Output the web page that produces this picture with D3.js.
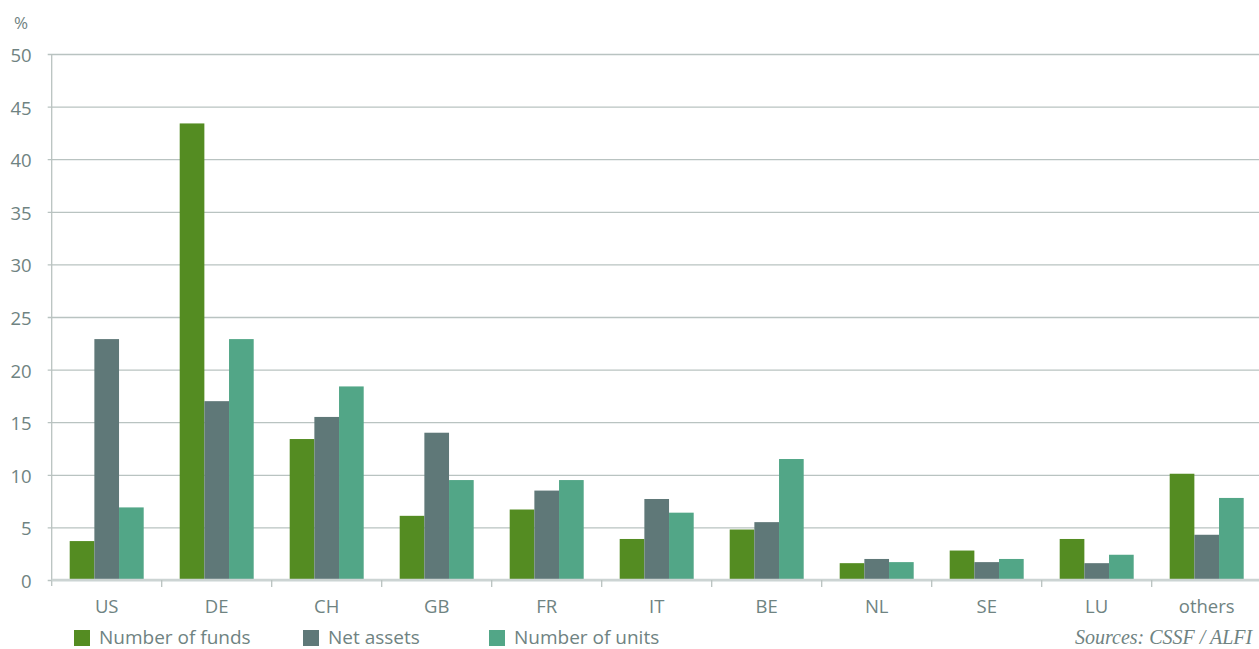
<!DOCTYPE html>
<html><head><meta charset="utf-8">
<script src="https://cdn.jsdelivr.net/npm/d3@7"></script>
<style>
html,body{margin:0;padding:0;background:#fff;}
svg{display:block;}
text{font-family:"Open Sans",Lato,sans-serif;font-weight:400;fill:#6f8382;}
</style></head>
<body>
<svg id="chart" width="1259" height="649"></svg>
<script>
const categories = ["US","DE","CH","GB","FR","IT","BE","NL","SE","LU","others"];
const seriesNames = ["Number of funds","Net assets","Number of units"];
const numberOfFunds = [3.7,43.4,13.4,6.1,6.7,3.9,4.8,1.6,2.8,3.9,10.1];
const netAssets     = [22.9,17.0,15.5,14.0,8.5,7.7,5.5,2.0,1.7,1.6,4.3];
const numberOfUnits = [6.9,22.9,18.4,9.5,9.5,6.4,11.5,1.7,2.0,2.4,7.8];
const yTicks = [0,5,10,15,20,25,30,35,40,45,50];
const colors = ["#548c22","#5f7878","#52a687"];
const seriesValues = [numberOfFunds, netAssets, numberOfUnits];

const svg = d3.select("#chart");
const mLeft = 51.7, mRight = 1261.7, mTop = 54, mBottom = 580;

const x0 = d3.scaleBand().domain(categories).range([mLeft, mRight]).paddingInner(36/110).paddingOuter(18/110);
const x1 = d3.scaleBand().domain(seriesNames).range([0, x0.bandwidth()]);
const y = d3.scaleLinear().domain([0,50]).range([mBottom, mTop]);

// gridlines
const yAxis = d3.axisLeft(y).tickValues(yTicks).tickSize(-(1259 - mLeft)).tickSizeOuter(0).tickPadding(20);
const gy = svg.append("g").attr("transform", `translate(${mLeft},0)`).call(yAxis);
gy.select(".domain").remove();
gy.selectAll(".tick line").attr("stroke","#b9c3c1").attr("stroke-width",1.3).attr("x1",-4);
gy.selectAll(".tick text").style("font-size","18.5px").attr("fill","#6f8382").attr("dy","0.4em");

// left axis line
svg.append("line").attr("x1",mLeft).attr("x2",mLeft).attr("y1",y(50)).attr("y2",mBottom+6)
  .attr("stroke","#b9c3c1").attr("stroke-width",1.3);

// bars
const data = categories.map((c,i)=>({cat:c, vals: seriesNames.map((s,j)=>({s, v: seriesValues[j][i], j}))}));
const groups = svg.append("g").selectAll("g").data(data).join("g")
  .attr("transform", d=>`translate(${x0(d.cat)},0)`);
groups.selectAll("rect").data(d=>d.vals).join("rect")
  .attr("x", d=>x1(d.s)).attr("width", x1.bandwidth())
  .attr("y", d=>y(d.v)).attr("height", d=>y(0)-y(d.v))
  .attr("fill", d=>colors[d.j]);

// x axis
const xAxis = d3.axisBottom(x0).tickSize(0).tickPadding(20);
const gx = svg.append("g").attr("transform", `translate(0,${mBottom})`).call(xAxis);
gx.select(".domain").remove();
gx.selectAll(".tick text").style("font-size","18.5px").attr("fill","#6f8382");
svg.append("line").attr("x1",mLeft).attr("x2",1259).attr("y1",mBottom).attr("y2",mBottom)
  .attr("stroke","#ccd4d3").attr("stroke-width",2.5);
// category separator ticks
const sepPos = categories.map((c)=>x0(c) - x0.step()*x0.paddingOuter());
svg.append("g").selectAll("line").data(sepPos.slice(1)).join("line")
  .attr("x1",d=>d).attr("x2",d=>d).attr("y1",mBottom).attr("y2",mBottom+7)
  .attr("stroke","#b9c3c1").attr("stroke-width",1.3);

// % label
svg.append("text").attr("x",21).attr("y",29).attr("text-anchor","middle").style("font-size","17px").text("%");

// legend
const legendX = [74, 303, 489];
const lg = svg.append("g").selectAll("g").data(seriesNames).join("g")
  .attr("transform",(d,i)=>`translate(${legendX[i]},630)`);
lg.append("rect").attr("width",16).attr("height",16).attr("fill",(d,i)=>colors[i]);
lg.append("text").attr("x",25).attr("y",14).style("font-size","19px").text(d=>d);

// source
svg.append("text").attr("x",1075).attr("y",644)
  .style("font-family","'Liberation Serif','DejaVu Serif',serif").style("font-style","italic").style("font-weight","400").style("font-size","20px")
  .attr("fill","#6f8382").text("Sources: CSSF / ALFI");
</script>
</body></html>
